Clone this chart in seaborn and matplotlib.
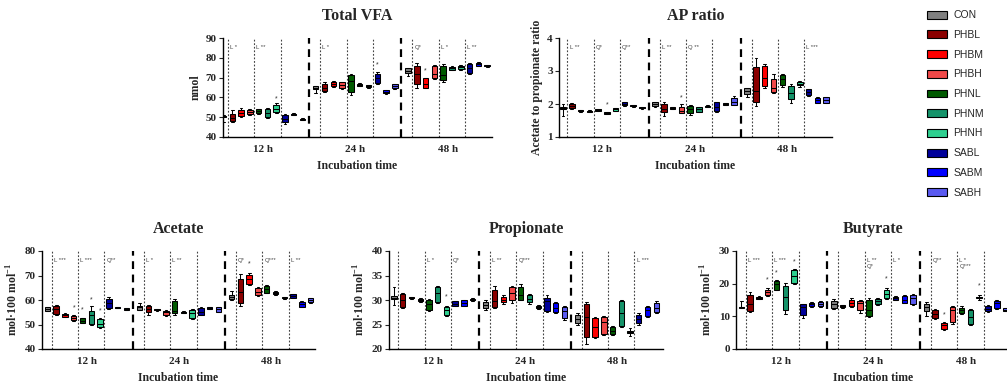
import numpy as np
import pandas as pd
import matplotlib
matplotlib.use("Agg")
import matplotlib.pyplot as plt
import seaborn as sns
from matplotlib.patches import Patch
from matplotlib.transforms import blended_transform_factory

treatments = ["CON", "PHBL", "PHBM", "PHBH", "PHNL", "PHNM", "PHNH", "SABL", "SABM", "SABH"]
colors = ["#7f7f7f", "#8b0000", "#ff0000", "#f04848", "#005a00", "#15936a", "#2ecf8f",
          "#00009a", "#0000ff", "#5a5af0"]
times = ["12 h", "24 h", "48 h"]

# box stats: (min, q1, median, q3, max), 10 treatments x 3 times
total_vfa = [
    # 12 h
    (47.5, 50.2, 50.5, 50.8, 51.0), (47.5, 48.0, 49.5, 51.5, 53.5), (50.0, 50.5, 52.0, 53.5, 54.5),
    (51.0, 51.5, 52.5, 53.5, 54.0), (51.5, 52.0, 53.0, 54.0, 54.0), (49.5, 50.0, 52.0, 54.0, 54.5),
    (52.0, 52.5, 54.0, 56.0, 57.0), (46.5, 47.5, 49.0, 51.0, 51.5), (51.0, 51.3, 51.5, 51.8, 52.0),
    (48.5, 48.8, 49.0, 49.3, 49.5),
    # 24 h
    (62.0, 64.0, 65.0, 65.8, 66.0), (62.5, 63.0, 65.0, 67.0, 68.0), (65.5, 66.0, 67.0, 68.0, 68.5),
    (64.0, 64.5, 66.5, 68.0, 68.0), (61.0, 62.5, 68.5, 71.5, 72.0), (65.8, 66.0, 66.5, 67.0, 67.2),
    (65.0, 65.5, 65.8, 66.3, 66.5), (67.0, 67.5, 70.0, 72.0, 73.0), (61.8, 62.0, 62.5, 63.5, 63.5),
    (64.0, 64.5, 66.0, 67.0, 67.0),
    # 48 h
    (71.0, 72.5, 73.5, 75.0, 75.0), (65.0, 67.0, 72.0, 76.0, 77.5), (64.5, 65.0, 67.0, 70.0, 70.0),
    (69.5, 70.0, 72.0, 76.0, 76.5), (68.0, 69.0, 71.5, 76.0, 77.0), (73.8, 74.0, 74.8, 75.5, 75.7),
    (74.0, 74.5, 75.3, 76.0, 76.5), (72.0, 72.5, 75.0, 77.0, 77.5), (75.8, 76.0, 76.7, 77.5, 77.7),
    (75.5, 75.7, 76.0, 76.2, 76.4),
]

ap_ratio = [
    (1.65, 1.85, 1.88, 1.92, 2.00), (1.85, 1.87, 1.93, 2.00, 2.02), (1.77, 1.78, 1.79, 1.81, 1.82),
    (1.75, 1.76, 1.78, 1.80, 1.81), (1.79, 1.80, 1.82, 1.85, 1.86), (1.70, 1.71, 1.73, 1.76, 1.77),
    (1.79, 1.80, 1.84, 1.87, 1.88), (1.95, 1.96, 2.01, 2.06, 2.07), (1.92, 1.93, 1.95, 1.97, 1.98),
    (1.86, 1.87, 1.89, 1.91, 1.92),
    (1.90, 1.95, 2.00, 2.05, 2.07), (1.65, 1.75, 1.85, 2.00, 2.05), (1.85, 1.86, 1.88, 1.90, 1.91),
    (1.72, 1.73, 1.80, 1.90, 2.00), (1.68, 1.72, 1.85, 1.95, 1.97), (1.75, 1.77, 1.84, 1.90, 1.91),
    (1.90, 1.91, 1.93, 1.95, 1.96), (1.75, 1.80, 1.92, 2.05, 2.05), (1.97, 1.98, 2.00, 2.03, 2.04),
    (1.97, 1.98, 2.05, 2.18, 2.25),
    (2.20, 2.30, 2.38, 2.47, 2.50), (1.94, 2.06, 2.39, 3.12, 3.40), (2.47, 2.54, 2.80, 3.15, 3.21),
    (2.32, 2.35, 2.49, 2.76, 2.90), (2.52, 2.57, 2.75, 2.89, 2.92), (2.03, 2.14, 2.33, 2.55, 2.62),
    (2.52, 2.57, 2.62, 2.66, 2.70), (2.24, 2.27, 2.35, 2.44, 2.46), (2.02, 2.04, 2.12, 2.19, 2.20),
    (2.02, 2.04, 2.12, 2.20, 2.22),
]

acetate = [
    (55.5, 55.7, 56.5, 57.0, 57.3), (54.0, 54.3, 56.3, 57.7, 58.0), (53.0, 53.2, 53.8, 54.3, 54.5),
    (51.5, 51.9, 52.6, 53.5, 53.8), (50.5, 50.7, 51.6, 52.6, 52.8), (49.7, 50.4, 53.9, 55.7, 57.5),
    (48.5, 48.8, 50.4, 52.3, 52.5), (56.5, 56.9, 58.7, 60.3, 61.3), (56.6, 56.7, 56.9, 57.1, 57.2),
    (55.8, 56.0, 56.3, 56.6, 56.8),
    (55.8, 56.0, 57.0, 57.7, 58.8), (54.0, 55.0, 56.5, 57.4, 58.0), (55.7, 55.8, 56.0, 56.2, 56.3),
    (53.5, 53.7, 54.9, 55.7, 56.0), (54.0, 54.7, 55.5, 59.6, 60.5), (54.5, 54.7, 55.0, 55.3, 55.5),
    (52.3, 52.7, 54.5, 56.0, 56.3), (53.8, 54.0, 55.3, 56.8, 57.0), (56.2, 56.3, 56.7, 57.0, 57.1),
    (55.0, 55.3, 56.3, 57.0, 57.2),
    (59.8, 60.4, 61.1, 62.0, 63.5), (57.6, 58.7, 63.4, 68.5, 70.5), (66.0, 66.4, 68.5, 70.4, 71.0),
    (61.5, 62.0, 63.4, 64.7, 65.4), (62.7, 63.0, 64.4, 65.8, 66.0), (62.2, 62.4, 62.9, 63.4, 63.6),
    (60.5, 60.7, 60.9, 61.1, 61.3), (60.7, 60.9, 61.6, 62.4, 62.6), (57.1, 57.3, 58.4, 59.3, 59.5),
    (58.9, 59.1, 59.8, 60.7, 60.9),
]

propionate = [
    (29.0, 30.2, 30.5, 30.8, 32.6), (28.3, 28.5, 29.9, 31.2, 31.4), (30.3, 30.4, 30.5, 30.6, 30.7),
    (29.5, 29.7, 30.0, 30.3, 30.4), (27.8, 28.0, 29.2, 30.1, 30.3), (29.4, 29.5, 31.4, 32.6, 32.8),
    (26.8, 27.0, 28.0, 28.6, 28.8), (28.7, 28.8, 29.2, 29.7, 29.8), (28.7, 28.8, 29.3, 29.9, 30.0),
    (29.8, 29.9, 30.1, 30.3, 30.4),
    (28.0, 28.3, 28.9, 29.5, 30.0), (28.3, 28.6, 29.7, 32.0, 32.8), (29.2, 29.5, 30.1, 30.7, 31.0),
    (29.3, 30.0, 31.5, 32.6, 32.8), (30.0, 30.1, 31.0, 32.7, 33.3), (29.2, 29.5, 30.3, 31.0, 31.2),
    (28.2, 28.3, 28.6, 28.8, 28.9), (27.6, 27.8, 29.7, 30.5, 31.1), (27.4, 27.6, 28.4, 29.3, 29.5),
    (26.0, 26.3, 27.7, 28.6, 28.8),
    (24.8, 25.3, 26.2, 27.0, 27.4), (21.0, 22.35, 26.6, 29.1, 29.6), (22.2, 22.55, 24.5, 26.3, 26.6),
    (22.8, 23.0, 25.5, 26.6, 26.8), (22.8, 23.0, 23.7, 24.4, 24.7), (24.4, 24.7, 27.3, 29.8, 30.1),
    (22.6, 23.2, 23.4, 23.6, 24.2), (25.0, 25.3, 26.2, 27.0, 27.4), (26.6, 26.8, 27.9, 28.6, 28.8),
    (27.3, 27.6, 28.4, 29.3, 29.7),
]

butyrate = [
    (12.5, 12.5, 12.8, 13.0, 14.7), (11.3, 11.7, 13.7, 16.5, 17.5), (15.2, 15.3, 15.7, 16.0, 16.1),
    (16.2, 16.5, 17.4, 18.2, 18.8), (18.0, 18.2, 19.8, 20.8, 21.1), (10.6, 11.8, 15.8, 19.3, 20.1),
    (19.8, 20.1, 22.3, 24.1, 24.6), (9.6, 10.4, 12.8, 13.7, 13.8), (13.0, 13.2, 13.8, 14.2, 14.4),
    (13.0, 13.2, 13.8, 14.5, 14.6),
    (12.2, 12.7, 13.8, 14.8, 15.2), (12.7, 12.8, 13.1, 13.5, 13.6), (13.0, 13.2, 14.2, 15.0, 15.5),
    (11.0, 11.8, 14.0, 14.8, 15.0), (9.7, 10.1, 12.0, 15.0, 15.5), (13.6, 13.8, 14.7, 15.3, 15.5),
    (15.2, 15.5, 16.7, 18.2, 18.8), (14.9, 15.0, 15.5, 16.0, 16.1), (14.0, 14.2, 15.0, 16.2, 16.4),
    (13.5, 13.8, 15.5, 16.5, 16.8),
    (10.0, 11.7, 12.8, 13.8, 14.5), (9.1, 9.4, 10.7, 12.0, 12.2), (5.9, 6.2, 7.2, 8.1, 8.4),
    (7.7, 8.4, 12.0, 13.0, 13.2), (10.8, 11.0, 12.0, 12.7, 13.2), (7.5, 7.7, 9.9, 12.0, 12.2),
    (15.0, 15.6, 15.8, 16.0, 16.5), (11.3, 11.5, 12.2, 13.2, 13.4), (12.3, 12.5, 14.0, 14.7, 14.9),
    (11.6, 11.7, 12.0, 12.5, 12.6),
]

# contrast notes next to each dotted divider (3 per time)
vfa_notes = ["L *", "L **", "", "L *", "", "", "Q*", "L *", "L **"]
ap_notes = ["L **", "Q*", "Q**", "L **", "Q **", "", "", "", "L ***"]
acetate_notes = ["L ***", "L ***", "Q**", "L *", "L **", "", "Q*", "Q***", "L **"]
propionate_notes = ["", "L *", "Q*", "L **", "Q***", "", "", "", "L ***"]
butyrate_notes = ["L ***", "L ***", "", "", "L **\nQ*", "L *", "Q**", "L *\nQ***", ""]

# asterisks above boxes: (time index, treatment index, y)
vfa_stars = [(0, 6, 57.6), (1, 7, 74.4), (2, 2, 71.4)]
ap_stars = [(0, 5, 1.86), (1, 3, 2.07)]
acetate_stars = [(0, 3, 55.3), (0, 4, 54.4), (0, 5, 58.8), (0, 6, 54.0), (2, 2, 73.2)]
propionate_stars = [(0, 6, 29.9)]
butyrate_stars = [(0, 3, 20.0), (0, 4, 22.3), (0, 6, 25.5), (1, 6, 20.3), (2, 2, 9.4), (2, 6, 18.3)]

GROUP_STEP = 10.5

sns.set_style("ticks")
plt.rcParams["font.family"] = "Liberation Serif"
plt.rcParams["font.weight"] = "bold"
plt.rcParams["axes.labelweight"] = "bold"
plt.rcParams["axes.titleweight"] = "bold"
plt.rcParams["mathtext.fontset"] = "custom"
plt.rcParams["mathtext.rm"] = "Liberation Serif:bold"
plt.rcParams["mathtext.bf"] = "Liberation Serif:bold"


def to_frame(stats):
    rows = []
    for i, s in enumerate(stats):
        t, k = divmod(i, 10)
        for v in s:
            rows.append({"pos": t * GROUP_STEP + k, "value": v, "trt": treatments[k]})
    return pd.DataFrame(rows)


def draw_panel(fig, rect, stats, title, ylabel, yticks, xlim, notes, stars):
    ax = fig.add_axes(rect)
    df = to_frame(stats)
    sns.boxplot(data=df, x="pos", y="value", hue="trt", hue_order=treatments, palette=colors,
                saturation=1, native_scale=True, dodge=False, width=0.62, whis=(0, 100),
                fliersize=0, linewidth=0.75, linecolor="black", legend=False, ax=ax)
    trans = blended_transform_factory(ax.transData, ax.transAxes)
    for t in range(3):
        base = t * GROUP_STEP
        for j, off in enumerate([0.5, 3.5, 6.5]):
            ax.axvline(base + off, color="#444444", ls=(0, (1.6, 1.6)), lw=0.8, zorder=0)
            txt = notes[t * 3 + j]
            if txt:
                ax.text(base + off + 0.25, 0.93, txt, transform=trans, fontsize=4.3,
                        fontweight="normal", family="Liberation Sans", color="#444444",
                        ha="left", va="top", linespacing=1.3)
        if t < 2:
            ax.axvline(base + 9.75, color="black", ls=(0, (3.5, 2.5)), lw=1.6, zorder=0)
    for t, k, y in stars:
        ax.text(t * GROUP_STEP + k, y, "*", fontsize=5, fontweight="normal", color="#333333",
                ha="center", va="bottom", family="Liberation Sans")
    ax.set_xlim(*xlim)
    ax.set_ylim(yticks[0], yticks[-1])
    ax.set_yticks(yticks)
    ax.set_xticks([t * GROUP_STEP + 4.5 for t in range(3)])
    ax.set_xticklabels(times)
    ax.tick_params(axis="x", length=0, labelsize=8, pad=6)
    ax.tick_params(axis="y", length=3, width=0.8, labelsize=8, pad=1.5)
    ax.set_xlabel("Incubation time", fontsize=8.5, labelpad=4)
    ax.set_ylabel(ylabel, fontsize=8.5, labelpad=3)
    ax.set_title(title, fontsize=11.5, pad=13)
    for side in ["top", "right"]:
        ax.spines[side].set_visible(False)
    for side in ["left", "bottom"]:
        ax.spines[side].set_linewidth(1.0)
        ax.spines[side].set_color("black")
    return ax


fig = plt.figure(figsize=(10.07, 3.87), dpi=100)
W, H = 1007.0, 387.0
mol_label = r"mol·100 mol$^{\mathbf{-1}}$"

draw_panel(fig, [223 / W, 1 - 137 / H, 269 / W, 99 / H], total_vfa, "Total VFA", "nmol",
           [40, 50, 60, 70, 80, 90], (-0.05, 30.55), vfa_notes, vfa_stars)
draw_panel(fig, [559 / W, 1 - 137 / H, 273 / W, 99 / H], ap_ratio, "AP ratio",
           "Acetate to propionate ratio", [1, 2, 3, 4], (-0.46, 30.67), ap_notes, ap_stars)
draw_panel(fig, [42 / W, 1 - 349 / H, 273 / W, 98 / H], acetate, "Acetate", mol_label,
           [40, 50, 60, 70, 80], (-0.62, 30.5), acetate_notes, acetate_stars)
draw_panel(fig, [389 / W, 1 - 349 / H, 274 / W, 98 / H], propionate, "Propionate", mol_label,
           [20, 25, 30, 35, 40], (-0.57, 30.77), propionate_notes, propionate_stars)
draw_panel(fig, [736 / W, 1 - 349 / H, 274 / W, 98 / H], butyrate, "Butyrate", mol_label,
           [0, 10, 20, 30], (-0.6, 30.5), butyrate_notes, butyrate_stars)

handles = [Patch(facecolor=c, edgecolor="black", linewidth=0.8, label=t)
           for t, c in zip(treatments, colors)]
fig.legend(handles=handles, loc="upper left", bbox_to_anchor=(918 / W, 1 - 1 / H), frameon=False,
           prop={"family": "Liberation Sans", "weight": "normal", "size": 7.5},
           handlelength=1.9, handleheight=0.8, labelspacing=0.93, handletextpad=0.6)

fig.savefig("out.png", dpi=100)
